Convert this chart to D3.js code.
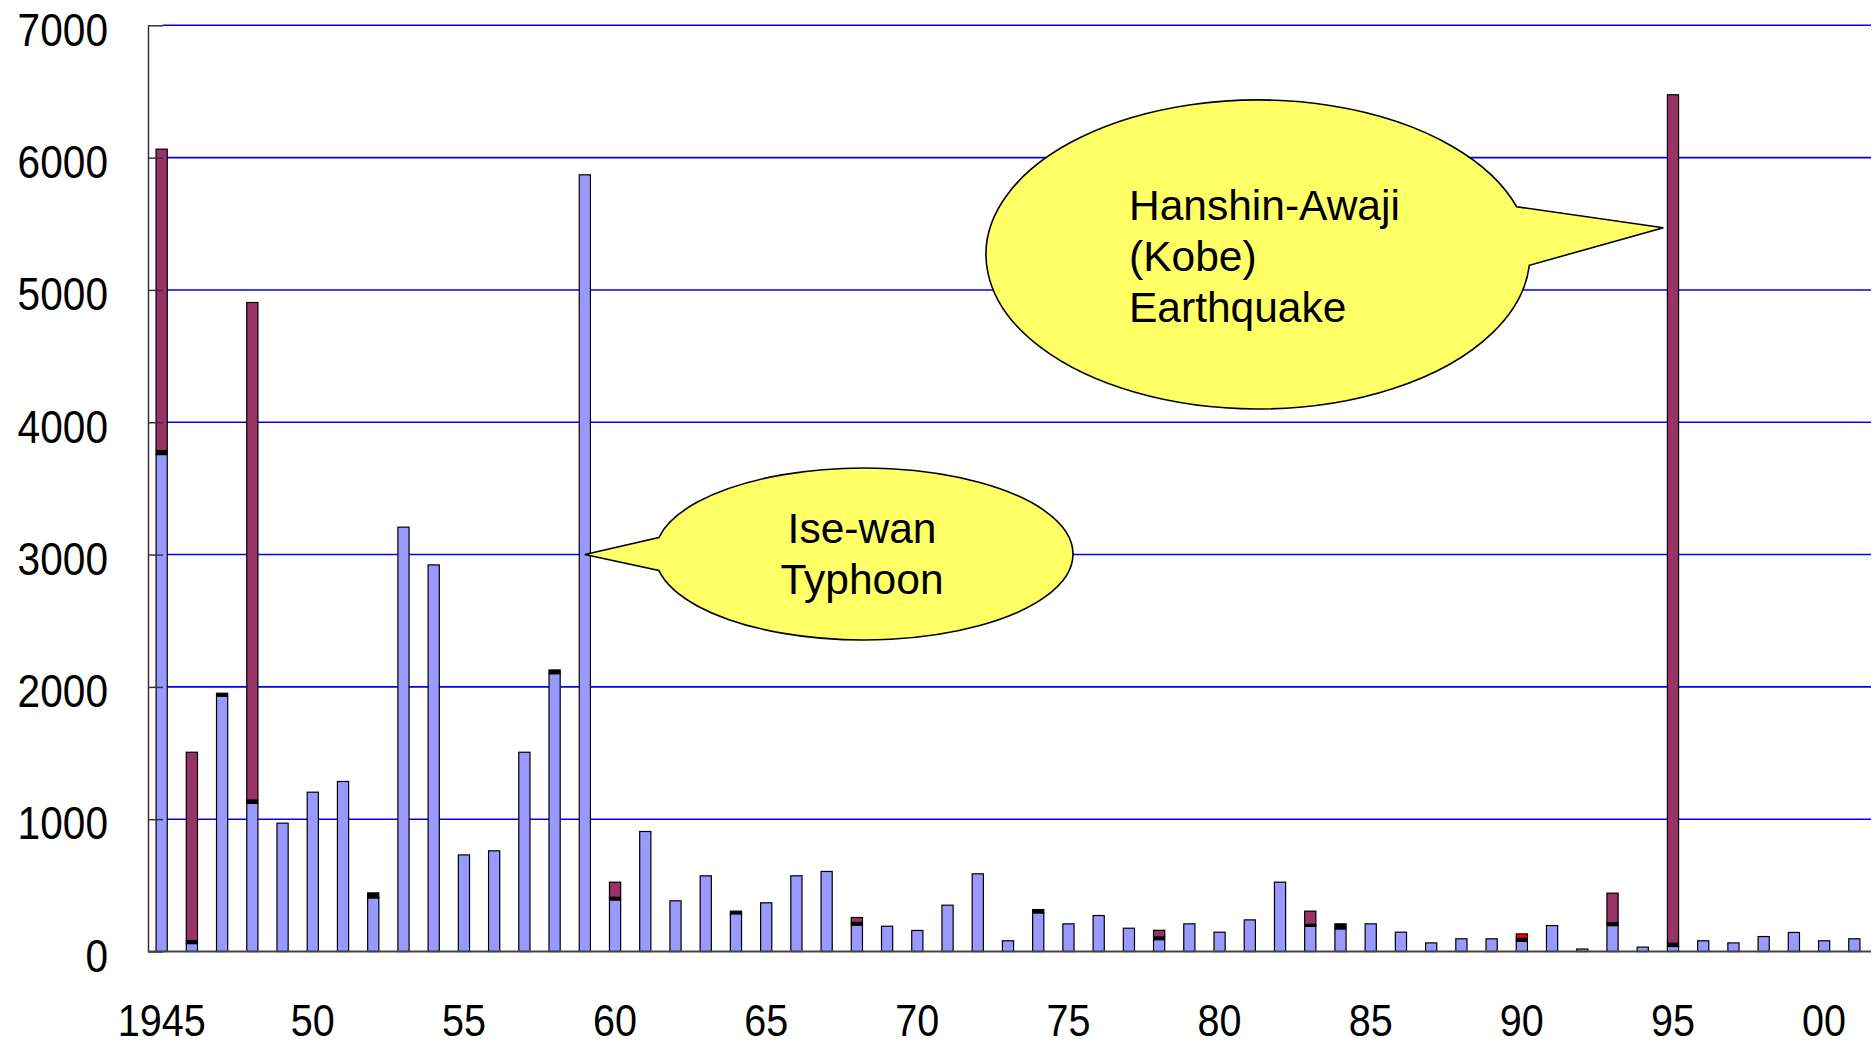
<!DOCTYPE html>
<html>
<head>
<meta charset="utf-8">
<script src="https://cdn.jsdelivr.net/npm/d3@7"></script>
<style>
  html, body { margin: 0; padding: 0; background: #fff; }
</style>
</head>
<body>
<div id="chart"></div>
<script>
// years on the x axis
var years = [
  1945, 1946, 1947, 1948, 1949, 1950, 1951, 1952, 1953, 1954,
  1955, 1956, 1957, 1958, 1959, 1960, 1961, 1962, 1963, 1964,
  1965, 1966, 1967, 1968, 1969, 1970, 1971, 1972, 1973, 1974,
  1975, 1976, 1977, 1978, 1979, 1980, 1981, 1982, 1983, 1984,
  1985, 1986, 1987, 1988, 1989, 1990, 1991, 1992, 1993, 1994,
  1995, 1996, 1997, 1998, 1999, 2000, 2001
];

// storms and floods (blue)
var flood = [
  3756, 60, 1930, 1120, 970, 1204, 1285, 405, 3207, 2922,
  730, 761, 1506, 2100, 5870, 390, 907, 383, 572, 285,
  368, 572, 605, 200, 191, 159, 350, 587, 81, 292,
  209, 272, 176, 90, 209, 146, 239, 524, 190, 171,
  209, 146, 65, 96, 96, 78, 196, 19, 196, 33,
  38, 81, 65, 113, 144, 81, 96
];

// snow and other (black)
var snow = [
  30, 22, 22, 25, 0, 0, 0, 38, 0, 0,
  0, 0, 0, 28, 0, 20, 0, 0, 0, 20,
  0, 0, 0, 20, 0, 0, 0, 0, 0, 25,
  0, 0, 0, 20, 0, 0, 0, 0, 15, 38,
  0, 0, 0, 0, 0, 22, 0, 0, 22, 0,
  25, 0, 0, 0, 0, 0, 0
];

// earthquakes and tsunami (maroon)
var quake = [
  2278, 1424, 0, 3760, 0, 0, 0, 0, 0, 0,
  0, 0, 0, 0, 0, 114, 0, 0, 0, 0,
  0, 0, 0, 37, 0, 0, 0, 0, 0, 0,
  0, 0, 0, 50, 0, 0, 0, 0, 100, 0,
  0, 0, 0, 0, 0, 0, 0, 0, 223, 0,
  6412, 0, 0, 0, 0, 0, 0
];

// volcanic (red)
var volcano = [
  0, 0, 0, 0, 0, 0, 0, 0, 0, 0,
  0, 0, 0, 0, 0, 0, 0, 0, 0, 0,
  0, 0, 0, 0, 0, 0, 0, 0, 0, 0,
  0, 0, 0, 0, 0, 0, 0, 0, 0, 0,
  0, 0, 0, 0, 0, 33, 0, 0, 0, 0,
  0, 0, 0, 0, 0, 0, 0
];

var xTickYears = [1945, 1950, 1955, 1960, 1965, 1970, 1975, 1980, 1985, 1990, 1995, 2000];
var xTickLabels = ["1945", "50", "55", "60", "65", "70", "75", "80", "85", "90", "95", "00"];
var yTicks = [0, 1000, 2000, 3000, 4000, 5000, 6000, 7000];

var width = 1874;
var height = 1045;

var marginTop = 25.3;
var marginLeft = 148;
var plotRight = 1871;
var baseline = 951.5;

var keys = ["flood", "snow", "quake", "volcano"];
var colors = { flood: "#9999FF", snow: "#000000", quake: "#993366", volcano: "#FF0000" };

var rows = years.map(function (yr, i) {
  return { year: yr, flood: flood[i], snow: snow[i], quake: quake[i], volcano: volcano[i] };
});

var svg = d3.select("#chart").append("svg")
  .attr("width", width)
  .attr("height", height);

var x = d3.scaleBand()
  .domain(years)
  .range([147, 1869])
  .paddingInner(0.63)
  .paddingOuter(0.3);

var y = d3.scaleLinear()
  .domain([0, 7000])
  .range([baseline, marginTop]);

// grid lines
svg.append("g")
  .selectAll("line")
  .data(yTicks.filter(function (d) { return d > 0; }))
  .join("line")
  .attr("x1", marginLeft + 15)
  .attr("x2", plotRight)
  .attr("y1", function (d) { return y(d); })
  .attr("y2", function (d) { return y(d); })
  .attr("stroke", "#0000FF")
  .attr("stroke-width", 1.6);

// stacked bars
var series = d3.stack().keys(keys)(rows);

svg.append("g")
  .selectAll("g")
  .data(series)
  .join("g")
  .attr("fill", function (s) { return colors[s.key]; })
  .selectAll("rect")
  .data(function (s) { return s.filter(function (d) { return d[1] - d[0] > 0; }); })
  .join("rect")
  .attr("x", function (d) { return x(d.data.year); })
  .attr("width", x.bandwidth())
  .attr("y", function (d) { return y(d[1]); })
  .attr("height", function (d) { return y(d[0]) - y(d[1]); })
  .attr("stroke", "#000")
  .attr("stroke-width", 1.2);

// y axis
var gy = svg.append("g")
  .attr("transform", "translate(" + marginLeft + ",0)")
  .call(d3.axisLeft(y)
    .tickValues(yTicks)
    .tickFormat(d3.format("d"))
    .tickSize(-15)
    .tickSizeOuter(0)
    .tickPadding(40));

gy.select(".domain").attr("stroke", "#333").attr("stroke-width", 1.5);
gy.selectAll(".tick line").attr("stroke", "#333").attr("stroke-width", 1.5);
gy.selectAll("text")
  .attr("font-family", "'Liberation Sans', Arial, sans-serif")
  .attr("font-size", 46)
  .attr("fill", "#000")
  .attr("dy", "0.43em")
  .attr("textLength", function (d) { return String(d).length * 22.6; })
  .attr("lengthAdjust", "spacingAndGlyphs");

// x axis
var gx = svg.append("g")
  .attr("transform", "translate(0," + baseline + ")")
  .call(d3.axisBottom(x)
    .tickValues(xTickYears)
    .tickFormat(function (d) { return xTickLabels[xTickYears.indexOf(d)]; })
    .tickSize(0)
    .tickSizeOuter(0));

gx.select(".domain")
  .attr("d", "M" + marginLeft + ",0H" + plotRight)
  .attr("stroke", "#444")
  .attr("stroke-width", 2);

gx.selectAll("text")
  .attr("font-family", "'Liberation Sans', Arial, sans-serif")
  .attr("font-size", 44)
  .attr("fill", "#000")
  .attr("y", 84)
  .attr("dy", null)
  .attr("textLength", function (d) { return xTickLabels[xTickYears.indexOf(d)].length * 22; })
  .attr("lengthAdjust", "spacingAndGlyphs");

// callout bubble: ellipse with a pointed tail
function callout(cx, cy, rx, ry, a1, a2, tip) {
  var p1 = [cx + rx * Math.cos(a1 * Math.PI / 180), cy + ry * Math.sin(a1 * Math.PI / 180)];
  var p2 = [cx + rx * Math.cos(a2 * Math.PI / 180), cy + ry * Math.sin(a2 * Math.PI / 180)];
  var d = "M" + p2[0] + "," + p2[1] +
    "A" + rx + "," + ry + " 0 1,1 " + p1[0] + "," + p1[1] +
    "L" + tip[0] + "," + tip[1] + "Z";
  svg.append("path")
    .attr("d", d)
    .attr("fill", "#FFFF66")
    .attr("stroke", "#000")
    .attr("stroke-width", 1.6)
    .attr("stroke-linejoin", "miter");
}

// Hanshin-Awaji: tip points at the 1995 bar
callout(1258, 254.5, 272, 154.5, -18, 4, [x(1995) - 4, y(5470)]);
// Ise-wan: tip points at the 1959 bar
callout(864, 554, 209, 86, 169, 191, [x(1959) + x.bandwidth() / 2, y(3000)]);

var bubbleFont = "'Liberation Sans', Arial, sans-serif";

svg.append("g")
  .selectAll("text")
  .data(["Hanshin-Awaji", "(Kobe)", "Earthquake"])
  .join("text")
  .attr("x", 1129)
  .attr("y", function (d, i) { return 220 + i * 51; })
  .attr("font-family", bubbleFont)
  .attr("font-size", 42.5)
  .attr("fill", "#000")
  .text(function (d) { return d; });

svg.append("g")
  .selectAll("text")
  .data(["Ise-wan", "Typhoon"])
  .join("text")
  .attr("x", 862)
  .attr("y", function (d, i) { return 543 + i * 51; })
  .attr("text-anchor", "middle")
  .attr("font-family", bubbleFont)
  .attr("font-size", 42.5)
  .attr("fill", "#000")
  .text(function (d) { return d; });
</script>
</body>
</html>
